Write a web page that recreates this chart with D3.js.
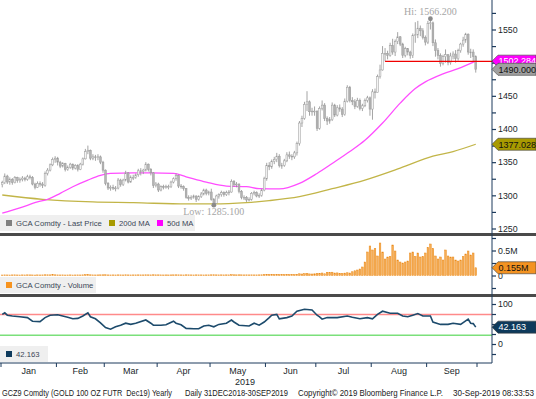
<!DOCTYPE html>
<html>
<head>
<meta charset="utf-8">
<script src="https://cdn.jsdelivr.net/npm/d3@7"></script>
<style>
  body { margin: 0; background: #fff; }
  svg { display: block; font-family: "Liberation Sans", Arial, sans-serif; }
</style>
</head>
<body>
<svg id="chart" width="536" height="399"></svg>
<script>
/* global d3 */

// trading days per month, Jan..Sep 2019
const months = ['Jan', 'Feb', 'Mar', 'Apr', 'May', 'Jun', 'Jul', 'Aug', 'Sep']
const monthDays = [22, 19, 21, 21, 22, 20, 22, 22, 20]

const firstOpen = 1316
const close = [
  1319, 1329, 1320, 1324, 1319, 1327, 1322, 1324, 1326, 1324, 1328, 1327, 1317, 1312, 1318, 1317, 1315, 1333, 1338, 1346, 1354, 1356,
  1350, 1344, 1348, 1339, 1342, 1347, 1341, 1345, 1339, 1347, 1355, 1366, 1368, 1356, 1358, 1357, 1358, 1350, 1338,
  1318, 1311, 1312, 1311, 1311, 1323, 1316, 1323, 1334, 1320, 1327, 1327, 1331, 1337, 1336, 1338, 1347, 1339, 1334, 1315, 1317,
  1308, 1313, 1312, 1313, 1313, 1320, 1325, 1330, 1314, 1313, 1310, 1297, 1295, 1297, 1299, 1294, 1298, 1302, 1308, 1303, 1305,
  1294, 1288, 1299, 1301, 1304, 1301, 1304, 1305, 1321, 1316, 1317, 1306, 1297, 1297, 1293, 1294, 1303, 1304, 1299, 1300, 1308, 1325,
  1345, 1343, 1351, 1354, 1359, 1345, 1345, 1352, 1361, 1359, 1358, 1364, 1378, 1409, 1416, 1437, 1441, 1426, 1427, 1427,
  1401, 1431, 1436, 1416, 1412, 1414, 1436, 1421, 1432, 1430, 1422, 1442, 1463, 1443, 1441, 1434, 1443, 1431, 1435, 1443, 1447, 1430,
  1456, 1455, 1479, 1489, 1514, 1514, 1511, 1526, 1516, 1532, 1539, 1528, 1511, 1521, 1516, 1511, 1541, 1542, 1552, 1548, 1538, 1531,
  1559, 1560, 1530, 1518, 1511, 1499, 1509, 1512, 1500, 1510, 1513, 1506, 1518, 1528, 1534, 1543, 1516, 1516, 1509, 1490
]
const high = [
  1322, 1333, 1331, 1327, 1326, 1329, 1328, 1327, 1329, 1328, 1331, 1331, 1329, 1319, 1321, 1321, 1320, 1336, 1341, 1348, 1357, 1359,
  1358, 1352, 1350, 1349, 1345, 1349, 1348, 1347, 1347, 1349, 1357, 1370, 1375, 1369, 1362, 1361, 1362, 1360, 1352,
  1339, 1320, 1315, 1316, 1314, 1326, 1325, 1325, 1337, 1335, 1330, 1331, 1333, 1340, 1341, 1340, 1350, 1348, 1341, 1335, 1320,
  1319, 1315, 1316, 1316, 1316, 1322, 1327, 1333, 1331, 1317, 1315, 1311, 1300, 1300, 1301, 1300, 1300, 1305, 1310, 1310, 1307,
  1310, 1296, 1301, 1303, 1307, 1306, 1307, 1308, 1324, 1323, 1320, 1318, 1308, 1300, 1299, 1297, 1305, 1307, 1306, 1303, 1310, 1328,
  1349, 1350, 1354, 1358, 1364, 1362, 1349, 1355, 1365, 1366, 1362, 1367, 1381, 1412, 1420, 1441, 1457, 1443, 1432, 1434,
  1428, 1434, 1443, 1439, 1419, 1418, 1440, 1438, 1436, 1437, 1433, 1446, 1466, 1465, 1448, 1445, 1447, 1446, 1438, 1446, 1450, 1449,
  1460, 1461, 1482, 1497, 1525, 1522, 1518, 1530, 1536, 1535, 1546, 1540, 1530, 1524, 1522, 1518, 1544, 1561, 1563, 1556, 1552, 1541,
  1563, 1566.2, 1562, 1535, 1522, 1514, 1512, 1520, 1512, 1515, 1517, 1519, 1521, 1530, 1539, 1545, 1544, 1521, 1520, 1511
]
const low = [
  1312, 1317, 1317, 1316, 1316, 1318, 1319, 1319, 1321, 1321, 1322, 1324, 1315, 1309, 1311, 1313, 1311, 1313, 1330, 1336, 1344, 1349,
  1345, 1341, 1342, 1336, 1337, 1340, 1338, 1339, 1336, 1338, 1345, 1354, 1362, 1353, 1353, 1352, 1353, 1347, 1334,
  1315, 1308, 1307, 1308, 1306, 1309, 1313, 1314, 1321, 1318, 1319, 1323, 1325, 1328, 1330, 1332, 1336, 1336, 1330, 1311, 1312,
  1305, 1306, 1309, 1310, 1309, 1311, 1318, 1322, 1311, 1310, 1307, 1295, 1292, 1293, 1295, 1290, 1292, 1296, 1300, 1300, 1300,
  1292, 1285.1, 1287, 1295, 1298, 1298, 1299, 1300, 1304, 1313, 1312, 1303, 1294, 1293, 1290, 1291, 1292, 1300, 1297, 1296, 1298, 1306,
  1322, 1338, 1340, 1347, 1350, 1342, 1340, 1343, 1350, 1355, 1353, 1355, 1360, 1375, 1403, 1414, 1427, 1420, 1420, 1420,
  1397, 1399, 1428, 1412, 1406, 1408, 1412, 1418, 1419, 1426, 1418, 1420, 1440, 1440, 1436, 1430, 1432, 1428, 1427, 1433, 1440, 1420,
  1414, 1446, 1455, 1476, 1488, 1502, 1505, 1509, 1512, 1510, 1528, 1525, 1507, 1508, 1511, 1506, 1507, 1530, 1537, 1540, 1535, 1526,
  1528, 1550, 1525, 1509, 1505, 1494, 1496, 1500, 1496, 1497, 1505, 1500, 1503, 1515, 1524, 1530, 1512, 1507, 1502, 1485
]

// volume in millions of contracts
const volume = [
  0.010, 0.012, 0.011, 0.010, 0.012, 0.013, 0.011, 0.010, 0.012, 0.011, 0.013, 0.012, 0.011, 0.009, 0.012, 0.011, 0.012, 0.015, 0.014, 0.013, 0.016, 0.014,
  0.012, 0.011, 0.012, 0.010, 0.011, 0.012, 0.010, 0.011, 0.012, 0.011, 0.013, 0.016, 0.018, 0.014, 0.012, 0.011, 0.012, 0.013, 0.014,
  0.015, 0.012, 0.011, 0.012, 0.011, 0.013, 0.012, 0.011, 0.014, 0.012, 0.011, 0.012, 0.012, 0.013, 0.012, 0.012, 0.014, 0.013, 0.012, 0.015, 0.013,
  0.013, 0.012, 0.011, 0.012, 0.011, 0.012, 0.013, 0.014, 0.013, 0.012, 0.011, 0.014, 0.013, 0.012, 0.011, 0.013, 0.012, 0.012, 0.011, 0.012, 0.012,
  0.014, 0.015, 0.013, 0.012, 0.013, 0.012, 0.013, 0.012, 0.016, 0.014, 0.013, 0.014, 0.013, 0.012, 0.013, 0.012, 0.013, 0.012, 0.012, 0.013, 0.014, 0.018,
  0.022, 0.020, 0.021, 0.019, 0.020, 0.018, 0.017, 0.019, 0.020, 0.019, 0.018, 0.020, 0.024, 0.034, 0.030, 0.036, 0.040, 0.032, 0.030, 0.034,
  0.040, 0.045, 0.050, 0.035, 0.065, 0.062, 0.066, 0.050, 0.052, 0.045, 0.042, 0.048, 0.055, 0.050, 0.075, 0.095, 0.110, 0.13, 0.17, 0.27, 0.47, 0.59,
  0.51, 0.54, 0.39, 0.65, 0.47, 0.33, 0.37, 0.38, 0.61, 0.49, 0.31, 0.27, 0.25, 0.27, 0.29, 0.45, 0.47, 0.38, 0.45, 0.37, 0.38, 0.45,
  0.56, 0.63, 0.54, 0.39, 0.33, 0.37, 0.31, 0.51, 0.39, 0.37, 0.37, 0.31, 0.29, 0.31, 0.38, 0.43, 0.49, 0.41, 0.45, 0.155
]

// moving averages and RSI as [trading day, value]
const ma50 = [[0, 1273], [7, 1281], [14, 1290], [18, 1294], [23, 1303], [28, 1313], [34, 1323], [39, 1330], [43, 1333],
  [52, 1334], [59, 1334], [68, 1333], [73, 1328], [81, 1320], [89, 1314], [97, 1313], [102, 1310], [110, 1309.6],
  [118, 1318], [125, 1333], [131, 1348], [138, 1366], [144, 1383], [151, 1409], [158, 1439], [164, 1461], [168, 1471],
  [175, 1483], [181, 1491], [188, 1502.284]]
const ma200 = [[0, 1300.5], [16, 1294], [36, 1290], [52, 1289], [73, 1287], [84, 1287], [97, 1289], [106, 1292],
  [118, 1298], [131, 1310], [144, 1323], [158, 1341], [171, 1359], [179, 1366], [188, 1377.028]]
const rsi = [[0, 74], [1, 78], [2, 72], [4, 70], [7, 68], [10, 66], [12, 57], [15, 56], [17, 66], [19, 72], [22, 73],
  [24, 70], [26, 67], [28, 63], [30, 64], [32, 70], [34, 78], [35, 68], [37, 63], [39, 53], [41, 41], [43, 37],
  [45, 43], [47, 47], [49, 52], [51, 49], [53, 52], [57, 60], [59, 52], [60, 47], [63, 47], [65, 48], [68, 57],
  [69, 52], [71, 48], [73, 39], [76, 38], [78, 38], [80, 45], [82, 47], [84, 43], [86, 49], [89, 52], [91, 60],
  [92, 55], [94, 47], [98, 45], [100, 52], [102, 47], [104, 55], [106, 66], [107, 72], [109, 74], [110, 63],
  [113, 66], [115, 70], [117, 82], [120, 87], [123, 85], [125, 72], [126, 68], [127, 62], [129, 66], [133, 66],
  [137, 70], [139, 67], [142, 63], [145, 66], [147, 63], [149, 74], [151, 82], [154, 77], [157, 77], [159, 70],
  [161, 68], [163, 72], [165, 76], [167, 70], [170, 70], [171, 55], [174, 49], [177, 49], [179, 52], [182, 49],
  [185, 62], [186, 52], [187, 51], [188, 42.163]]

const priceTicks = d3.range(1250, 1576, 25)
const volumeTicks = [-0.25, 0, 0.25, 0.5, 0.75]
const rsiTicks = [-25, 0, 25, 50, 75, 100]
const rsiBands = [74, 22]
const trendLevel = 1502
const trendFrom = 152

const svg = d3.select('#chart')
const axisX = 492
const nDays = close.length

const x = d3.scaleLinear().domain([-0.5, nDays - 0.5]).range([1, 477])
const yP = d3.scaleLinear().domain([1250, 1550]).range([228.5, 29.5])
const yV = d3.scaleLinear().domain([0, 0.5]).range([275.5, 250.5])
const yR = d3.scaleLinear().domain([0, 100]).range([344, 304])

const bars = close.map((c, i) => ({ i, o: i ? close[i - 1] : firstOpen, c, h: high[i], l: low[i], v: volume[i] }))

svg.append('defs').append('clipPath').attr('id', 'mainClip')
  .append('rect').attr('x', 0).attr('y', 0).attr('width', axisX).attr('height', 232)

// ---------- price panel ----------
const main = svg.append('g').attr('clip-path', 'url(#mainClip)')

main.append('path')
  .attr('d', d3.line().x(d => x(d[0])).y(d => yP(d[1])).curve(d3.curveMonotoneX)(ma200))
  .attr('fill', 'none').attr('stroke', '#c2b548').attr('stroke-width', 1.3)

main.append('path')
  .attr('d', d3.line().x(d => x(d[0])).y(d => yP(d[1])).curve(d3.curveMonotoneX)(ma50))
  .attr('fill', 'none').attr('stroke', '#ff4dff').attr('stroke-width', 1.3)

const candle = main.selectAll('.bar').data(bars).enter().append('g').attr('class', 'bar')
candle.append('line')
  .attr('x1', d => x(d.i)).attr('x2', d => x(d.i))
  .attr('y1', d => yP(d.h)).attr('y2', d => yP(d.l))
  .attr('stroke', '#9a9a9a').attr('stroke-width', 0.9)
candle.append('rect')
  .attr('x', d => x(d.i) - 0.9).attr('width', 1.8)
  .attr('y', d => yP(Math.max(d.o, d.c)))
  .attr('height', d => Math.max(0.8, Math.abs(yP(d.o) - yP(d.c))))
  .attr('fill', d => d.c >= d.o ? '#f4f4f4' : '#b4b4b4')
  .attr('stroke', '#9a9a9a').attr('stroke-width', 0.5)

svg.append('line')
  .attr('x1', x(trendFrom)).attr('x2', 536)
  .attr('y1', yP(trendLevel)).attr('y2', yP(trendLevel))
  .attr('stroke', '#f00000').attr('stroke-width', 1.4)

// high / low markers
const hiIdx = d3.maxIndex(high)
const loIdx = d3.minIndex(low)
svg.append('circle').attr('cx', x(hiIdx)).attr('cy', yP(high[hiIdx])).attr('r', 2.4).attr('fill', '#8a8a8a')
svg.append('circle').attr('cx', x(loIdx)).attr('cy', yP(low[loIdx])).attr('r', 2.4).attr('fill', '#8a8a8a')
svg.append('text').attr('x', x(hiIdx)).attr('y', yP(high[hiIdx]) - 4)
  .attr('text-anchor', 'middle').attr('font-family', '"Liberation Serif", serif').attr('font-size', 10)
  .attr('fill', '#a6a6a6').text('Hi: ' + d3.format('.3f')(high[hiIdx]))
svg.append('text').attr('x', x(loIdx)).attr('y', yP(low[loIdx]) + 10)
  .attr('text-anchor', 'middle').attr('font-family', '"Liberation Serif", serif').attr('font-size', 10)
  .attr('fill', '#a6a6a6').text('Low: ' + d3.format('.3f')(low[loIdx]))

// ---------- volume panel ----------
svg.append('g').selectAll('rect').data(bars).enter().append('rect')
  .attr('x', d => x(d.i) - 0.8).attr('width', 1.6)
  .attr('y', d => yV(d.v)).attr('height', d => yV(0) - yV(d.v))
  .attr('fill', '#f6ad55').attr('stroke', '#ea8a1a').attr('stroke-width', 0.5)

// ---------- RSI panel ----------
rsiBands.forEach((b, k) => {
  svg.append('line').attr('x1', 0).attr('x2', axisX).attr('y1', yR(b)).attr('y2', yR(b))
    .attr('stroke', k ? '#7be07b' : '#ff8a8a').attr('stroke-width', 1.5)
})
svg.append('path')
  .attr('d', d3.line().x(d => x(d[0])).y(d => yR(d[1]))(rsi))
  .attr('fill', 'none').attr('stroke', '#1d4b6c').attr('stroke-width', 1.6)

// ---------- separators ----------
svg.append('rect').attr('x', 0).attr('y', 233).attr('width', 536).attr('height', 3).attr('fill', '#4a4a4a')
svg.append('rect').attr('x', 0).attr('y', 294).attr('width', 536).attr('height', 3).attr('fill', '#4a4a4a')

// ---------- legends ----------
function legend(y, w, items) {
  const g = svg.append('g')
  g.append('rect').attr('x', 0).attr('y', y).attr('width', w).attr('height', 16).attr('fill', '#efefef')
  items.forEach(it => {
    g.append('rect').attr('x', it.x).attr('y', y + 5).attr('width', 6).attr('height', 6).attr('fill', it.color)
    g.append('text').attr('x', it.x + 10).attr('y', y + 11.3).attr('font-size', 7.7)
      .attr('fill', '#3a4656').text(it.label)
  })
}
legend(215, 195, [
  { x: 6, color: '#808080', label: 'GCA Comdty - Last Price' },
  { x: 109, color: '#a89a00', label: '200d MA' },
  { x: 157, color: '#ff00ff', label: '50d MA' }
])
legend(277, 96, [{ x: 6, color: '#f7931e', label: 'GCA Comdty - Volume' }])
legend(346, 48, [{ x: 6, color: '#0e3a5c', label: d3.format('.3f')(rsi[rsi.length - 1][1]) }])

// ---------- right axes ----------
function rightAxis(scale, ticks, fmt) {
  const g = svg.append('g').attr('transform', `translate(${axisX},0)`)
    .call(d3.axisRight(scale).tickValues(ticks).tickSize(4).tickPadding(2).tickFormat(fmt))
  g.select('.domain').remove()
  g.selectAll('.tick line').attr('stroke', '#1c3a5c').attr('stroke-width', 1.2)
  g.selectAll('.tick text').attr('fill', '#1a1f2b').attr('font-size', 8.8)
    .attr('font-family', '"Liberation Sans", Arial, sans-serif')
}
rightAxis(yP, priceTicks, d => d % 50 ? '' : d)
rightAxis(yV, volumeTicks, d => d === 0.5 ? '0.5M' : d === 0 ? '0' : '')
rightAxis(yR, rsiTicks, d => d === 100 || d === 0 ? d : '')

svg.append('line').attr('x1', axisX).attr('x2', axisX).attr('y1', 0).attr('y2', 363)
  .attr('stroke', '#1c3a5c').attr('stroke-width', 1)

// ---------- value tags ----------
function tag(y, label, bg, fg) {
  const g = svg.append('g')
  g.append('path')
    .attr('d', `M${axisX},${y} L${axisX + 6},${y - 6} L536,${y - 6} L536,${y + 6} L${axisX + 6},${y + 6} Z`)
    .attr('fill', bg).attr('stroke', '#3a3a3a').attr('stroke-width', 0.6)
  g.append('text').attr('x', axisX + 6.5).attr('y', y + 3.3).attr('font-size', 9)
    .attr('fill', fg).text(label)
}
tag(yP(ma50[ma50.length - 1][1]), d3.format('.3f')(ma50[ma50.length - 1][1]), '#ff00ff', '#ffffff')
tag(yP(close[nDays - 1]), d3.format('.3f')(close[nDays - 1]), '#a0a0a0', '#111111')
tag(yP(ma200[ma200.length - 1][1]), d3.format('.3f')(ma200[ma200.length - 1][1]), '#a89a00', '#111111')
tag(yV(volume[nDays - 1]), d3.format('.3f')(volume[nDays - 1]) + 'M', '#f39322', '#111111')
tag(yR(rsi[rsi.length - 1][1]), d3.format('.3f')(rsi[rsi.length - 1][1]), '#0e3a5c', '#ffffff')

// ---------- time axis ----------
const bounds = [0]
monthDays.forEach(n => bounds.push(bounds[bounds.length - 1] + n))
svg.append('line').attr('x1', 0).attr('x2', axisX).attr('y1', 363).attr('y2', 363)
  .attr('stroke', '#1c3a5c').attr('stroke-width', 1)
svg.append('g').selectAll('line').data(bounds).enter().append('line')
  .attr('x1', d => x(d - 0.5)).attr('x2', d => x(d - 0.5))
  .attr('y1', 363).attr('y2', 367).attr('stroke', '#1c3a5c')
svg.append('g').selectAll('text').data(months).enter().append('text')
  .attr('x', (d, k) => (x(bounds[k] - 0.5) + x(bounds[k + 1] - 0.5)) / 2)
  .attr('y', 374).attr('text-anchor', 'middle').attr('font-size', 9)
  .attr('fill', '#1a1f2b').text(d => d)
svg.append('text').attr('x', 245).attr('y', 385).attr('text-anchor', 'middle')
  .attr('font-size', 9).attr('fill', '#1a1f2b').text('2019')

// ---------- footer ----------
const footer = [
  { x: 2, w: 170, t: 'GCZ9 Comdty (GOLD 100 OZ FUTR  Dec19) Yearly' },
  { x: 185, w: 103, t: 'Daily 31DEC2018-30SEP2019' },
  { x: 298, w: 145, t: 'Copyright\u00a9 2019 Bloomberg Finance L.P.' },
  { x: 453, w: 81, t: '30-Sep-2019 08:33:53' }
]
footer.forEach(f => {
  svg.append('text').attr('x', f.x).attr('y', 396).attr('font-size', 8.4)
    .attr('fill', '#1a1a1a').attr('textLength', f.w).attr('lengthAdjust', 'spacingAndGlyphs')
    .style('white-space', 'pre').text(f.t)
})
</script>
</body>
</html>
